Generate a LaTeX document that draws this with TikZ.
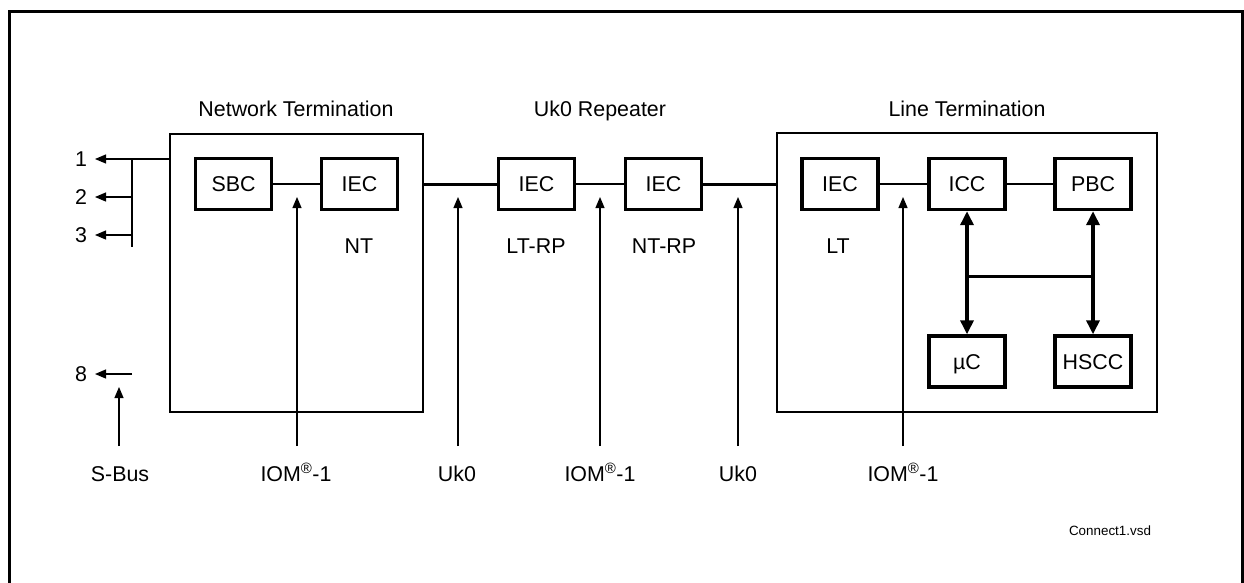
\documentclass[tikz,border=0pt]{standalone}
\usepackage{fontspec}
\setmainfont{Liberation Sans}
\usetikzlibrary{arrows.meta}
\begin{document}
\begin{tikzpicture}[x=1pt,y=-1pt,
  every node/.style={font=\fontsize{21.4}{24}\selectfont},
  blk/.style={draw,line width=3.4pt,minimum width=76pt,minimum height=51pt,inner sep=0pt,text height=15.3pt,text depth=0pt},
  grp/.style={draw,line width=1.3pt},
  lbl/.style={anchor=base,inner sep=0pt},
  thinline/.style={line width=1.2pt},
  thickline/.style={line width=3pt},
  thinarrow/.style={line width=1.2pt,-{Triangle[length=11pt,width=9pt]}},
  thickarrow/.style={line width=3.4pt,{Triangle[length=14pt,width=13pt]}-{Triangle[length=14pt,width=13pt]}}
]
\useasboundingbox (0,0) rectangle (1244,582);
% outer frame
\draw[line width=3pt] (9,600) -- (9,11) -- (1242,11) -- (1242,600);

% group boxes
\node[grp,minimum width=253pt,minimum height=278pt,inner sep=0pt] (ntbox) at (296.5,273) {};
\node[grp,minimum width=380pt,minimum height=279pt,inner sep=0pt] (ltbox) at (967,272.5) {};

% headers
\node[lbl] (hnt) at (296,116) {Network Termination};
\node[lbl] (hrp) at (600,116) {Uk0 Repeater};
\node[lbl] (hlt) at (967,116) {Line Termination};

% blocks
\node[blk] (sbc) at (233.5,184) {SBC};
\node[blk] (iecnt) at (359.5,184) {IEC};
\node[blk] (ieclr) at (536.5,184) {IEC};
\node[blk] (iecnr) at (663.5,184) {IEC};
\node[blk] (ieclt) at (840,184) {IEC};
\node[blk] (icc) at (967,184) {ICC};
\node[blk] (pbc) at (1093,184) {PBC};
\node[blk] (uc) at (967,361.5) {µC};
\node[blk] (hscc) at (1093,361.5) {HSCC};

% sub labels
\node[lbl] (lnt) at (359,253) {NT};
\node[lbl] (llr) at (536,253) {LT-RP};
\node[lbl] (lnr) at (664,253) {NT-RP};
\node[lbl] (llt) at (838,253) {LT};

% connections
\draw[thinline] (sbc.east) -- (iecnt.west);
\draw[thickline] (ntbox.east |- iecnt) -- (ieclr.west);
\draw[thinline] (ieclr.east) -- (iecnr.west);
\draw[thickline] (iecnr.east) -- (ltbox.west |- iecnr);
\draw[thinline] (ieclt.east) -- (icc.west);
\draw[thinline] (icc.east) -- (pbc.west);

% bus
\draw[thickarrow] (icc.south) -- (uc.north);
\draw[thickarrow] (pbc.south) -- (hscc.north);
\coordinate (busl) at (967,276);
\coordinate (busr) at (1093,276);
\draw[line width=3pt] (busl) -- (busr);

% left S-bus outputs
\node[lbl] (n1) at (81,166.5) {1};
\node[lbl] (n2) at (81,204.5) {2};
\node[lbl] (n3) at (81,242.5) {3};
\node[lbl] (n8) at (81,381.5) {8};
\coordinate (t1) at (95,159);
\coordinate (t2) at (95,197);
\coordinate (t3) at (95,235);
\coordinate (t8) at (95,374);
\coordinate (s1) at (132,159);
\coordinate (s2) at (132,197);
\coordinate (s3) at (132,235);
\coordinate (s3e) at (132,247);
\coordinate (s8) at (132,374);
\draw[thinarrow] (ntbox.west |- t1) -- (t1);
\draw[thinline] (s1) -- (s3e);
\draw[thinarrow] (s2) -- (t2);
\draw[thinarrow] (s3) -- (t3);
\draw[thinarrow] (s8) -- (t8);

% bottom labels and arrows
\node[lbl] (bsb) at (120,481) {S-Bus};
\node[lbl] (bi1) at (296,481) {IOM\textsuperscript{\textregistered}-1};
\node[lbl] (bu1) at (457,481) {Uk0};
\node[lbl] (bi2) at (600,481) {IOM\textsuperscript{\textregistered}-1};
\node[lbl] (bu2) at (738,481) {Uk0};
\node[lbl] (bi3) at (903,481) {IOM\textsuperscript{\textregistered}-1};

\coordinate (asb) at (119,446);
\coordinate (ai1) at (297,446);
\coordinate (au1) at (458,446);
\coordinate (ai2) at (600,446);
\coordinate (au2) at (738,446);
\coordinate (ai3) at (903,446);
\coordinate (tsb) at (119,387);
\coordinate (ti1) at (297,197);
\coordinate (tu1) at (458,197);
\coordinate (ti2) at (600,197);
\coordinate (tu2) at (738,197);
\coordinate (ti3) at (903,197);
\draw[thinarrow] (asb) -- (tsb);
\draw[thinarrow] (ai1) -- (ti1);
\draw[thinarrow] (au1) -- (tu1);
\draw[thinarrow] (ai2) -- (ti2);
\draw[thinarrow] (au2) -- (tu2);
\draw[thinarrow] (ai3) -- (ti3);

\node[lbl,font=\fontsize{13.4}{16}\selectfont] (file) at (1110,535) {Connect1.vsd};
\end{tikzpicture}
\end{document}
